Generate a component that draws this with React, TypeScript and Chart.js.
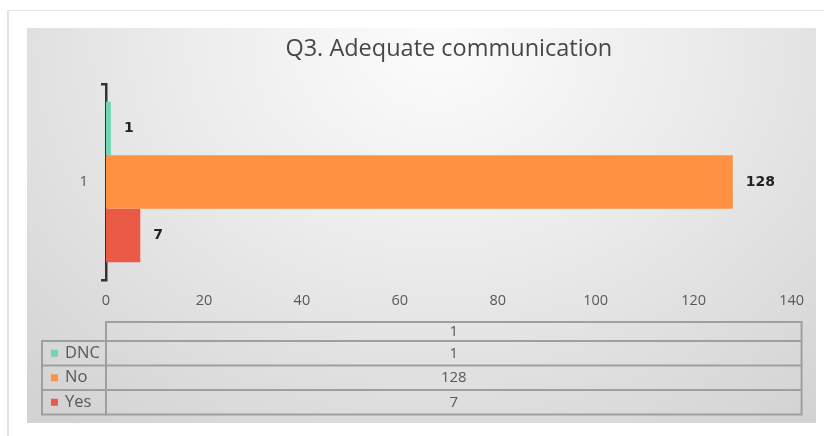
import React, { useEffect, useRef } from 'react';
import { Chart, registerables } from 'chart.js';

Chart.register(...registerables);

const TITLE = 'Q3. Adequate communication';
const categories = ['1'];
const seriesLabels = ['DNC', 'No', 'Yes'];
const dncValues = [1];
const noValues = [128];
const yesValues = [7];
const seriesColors = ['#6fd5b6', '#ff9241', '#ea5a47'];
const xMin = 0;
const xMax = 140;
const xStep = 20;

export default function App() {
  const ref = useRef<HTMLCanvasElement>(null);

  useEffect(() => {
    const values = [dncValues, noValues, yesValues];

    const labelPlugin = {
      id: 'valueLabels',
      afterDatasetsDraw(chart: any) {
        const ctx = chart.ctx;
        ctx.save();
        ctx.font = 'bold 14px "DejaVu Sans"';
        ctx.fillStyle = '#222222';
        ctx.textAlign = 'left';
        ctx.textBaseline = 'middle';
        chart.data.datasets.forEach((ds: any, di: number) => {
          const meta = chart.getDatasetMeta(di);
          meta.data.forEach((el: any, i: number) => {
            ctx.fillText(String(ds.data[i]), el.x + 13, el.y);
          });
        });
        ctx.restore();
      },
    };

    const tablePlugin = {
      id: 'dataTable',
      afterDraw(chart: any) {
        const ctx = chart.ctx;
        const area = chart.chartArea;
        const L = area.left;
        const R = area.right + 10;
        const legL = 15;
        const headTop = area.bottom + 42;
        const headH = 19;
        const rowH = 24.5;
        const rowsTop = headTop + headH;
        const bottom = rowsTop + rowH * seriesLabels.length;
        ctx.save();
        ctx.strokeStyle = '#9f9f9f';
        ctx.lineWidth = 2;
        ctx.strokeRect(L, headTop, R - L, bottom - headTop);
        ctx.strokeRect(legL, rowsTop, L - legL, bottom - rowsTop);
        ctx.beginPath();
        for (let i = 0; i < seriesLabels.length; i++) {
          const y = rowsTop + rowH * i;
          ctx.moveTo(legL, y);
          ctx.lineTo(R, y);
        }
        ctx.stroke();
        const cx = (L + R) / 2;
        ctx.fillStyle = '#595959';
        ctx.textBaseline = 'middle';
        ctx.textAlign = 'center';
        ctx.font = '15px "Open Sans"';
        ctx.fillText(categories[0], cx, headTop + headH / 2);
        seriesLabels.forEach((name, i) => {
          const cy = rowsTop + rowH * i + rowH / 2;
          ctx.textAlign = 'center';
          ctx.font = '15px "Open Sans"';
          ctx.fillStyle = '#595959';
          ctx.fillText(String(values[i][0]), cx, cy);
          ctx.fillStyle = seriesColors[i];
          ctx.fillRect(legL + 9, cy - 3.5, 7, 7);
          ctx.fillStyle = '#595959';
          ctx.textAlign = 'left';
          ctx.font = '16.5px "Open Sans"';
          ctx.fillText(name, legL + 23, cy);
        });
        ctx.restore();
      },
    };

    const chart = new Chart(ref.current as HTMLCanvasElement, {
      type: 'bar',
      data: {
        labels: categories,
        datasets: seriesLabels.map((l, i) => ({
          label: l,
          data: values[i],
          backgroundColor: seriesColors[i],
          borderWidth: 0,
          categoryPercentage: 0.82,
          barPercentage: 1,
        })),
      },
      options: {
        indexAxis: 'y',
        responsive: false,
        maintainAspectRatio: false,
        animation: false,
        layout: { padding: { left: 0, right: 23, top: 0, bottom: 113 } },
        plugins: {
          legend: { display: false },
          tooltip: { enabled: false },
          title: {
            display: true,
            fullSize: false,
            text: TITLE,
            color: '#474747',
            font: { family: 'Open Sans', size: 23.5, weight: 'normal' },
            padding: { top: 7, bottom: 20.8 },
          },
        },
        scales: {
          x: {
            min: xMin,
            max: xMax,
            ticks: { stepSize: xStep, color: '#595959', font: { family: 'Open Sans', size: 14.5 }, padding: 12 },
            grid: { display: false, drawTicks: false },
            border: { display: false },
            afterFit: (s: any) => { s.height = 30; },
          },
          y: {
            z: 1,
            ticks: { color: '#595959', font: { family: 'Open Sans', size: 15 }, padding: 13 },
            grid: { display: true, drawOnChartArea: false, drawTicks: true, tickLength: 5, color: '#333333', lineWidth: 2.5 },
            border: { display: true, color: '#333333', width: 2.5 },
            afterFit: (s: any) => { s.width = 79; },
          },
        },
      } as any,
      plugins: [labelPlugin, tablePlugin],
    });
    return () => chart.destroy();
  }, []);

  return (
    <div style={{ position: 'fixed', left: 0, top: 0, width: 824, height: 436, background: '#ffffff', overflow: 'hidden' }}>
      <div style={{ position: 'absolute', left: 7, top: 10, right: 0, bottom: 0, borderLeft: '2px solid #e3e3e3', borderTop: '1px solid #e8e8e8' }} />
      <div
        style={{
          position: 'absolute',
          left: 27,
          top: 28,
          width: 789,
          height: 395,
          background: 'radial-gradient(ellipse 75% 120% at 52% 5%, #fcfcfc 0%, #ebebeb 45%, #d3d3d3 100%)',
        }}
      >
        <canvas ref={ref} width={789} height={395} style={{ display: 'block', width: 789, height: 395 }} />
      </div>
    </div>
  );
}
